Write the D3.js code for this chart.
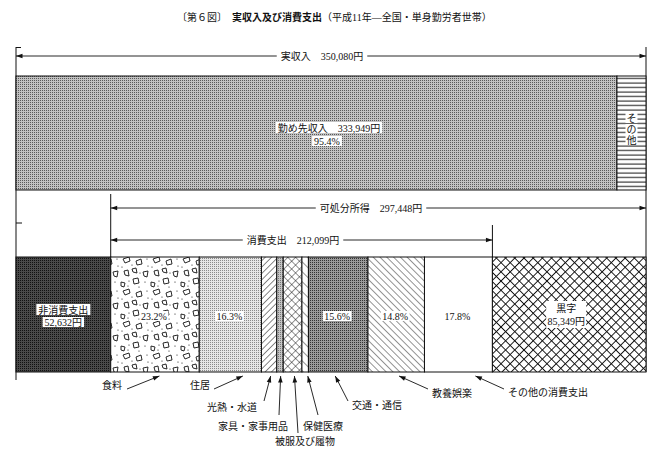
<!DOCTYPE html>
<html><head><meta charset="utf-8">
<script src="https://cdn.jsdelivr.net/npm/d3@7"></script>
<style>body{margin:0;background:#fff}</style>
</head><body><svg id="c" width="662" height="461"></svg>
<script>
// ---- data ----
const incomeCategories = ["勤め先収入", "その他"];
const incomeValues = [333949, 16131];
const incomeShareLabels = ["95.4%", ""];
const realIncome = 350080;
const disposableIncome = 297448;
const nonConsumption = 52632;
const consumption = 212099;
const surplus = 85349;
const consumptionCategories = ["食料","住居","光熱・水道","家具・家事用品","被服及び履物","保健医療","交通・通信","教養娯楽","その他の消費支出"];
const consumptionShares = [23.2, 16.3, 4.0, 1.7, 4.9, 1.7, 15.6, 14.8, 17.8];
const consumptionShareShown = [true, true, false, false, false, false, true, true, true];

// ---- setup ----
const FONT = "'Liberation Serif','Noto Sans CJK JP',serif";
const INK = "#111";
const svg = d3.select("#c").attr("font-family", FONT);
const defs = svg.append("defs");

function dots(id, bg, fg) {
  const p = defs.append("pattern").attr("id", id).attr("width", 2).attr("height", 2).attr("patternUnits", "userSpaceOnUse");
  p.append("rect").attr("width", 2).attr("height", 2).attr("fill", bg);
  p.append("rect").attr("width", 1).attr("height", 1).attr("fill", fg);
}
function hatch(id, size, angle, sw, cross) {
  const p = defs.append("pattern").attr("id", id).attr("width", size).attr("height", size)
    .attr("patternUnits", "userSpaceOnUse").attr("patternTransform", `rotate(${angle})`);
  p.append("rect").attr("width", size).attr("height", size).attr("fill", "#fff");
  p.append("line").attr("x1", 0).attr("x2", 0).attr("y1", 0).attr("y2", size).attr("stroke", INK).attr("stroke-width", sw);
  if (cross) p.append("line").attr("x1", 0).attr("x2", size).attr("y1", 0).attr("y2", 0).attr("stroke", INK).attr("stroke-width", sw);
}
dots("pWork", "#c2c2c2", "#5a5a5a");
dots("pNon", "#4a4a4a", "#111");
dots("pHouse", "#e6e6e6", "#8a8a8a");
dots("pFurn", "#c6c6c6", "#777");
dots("pTrans", "#9a9a9a", "#333");
hatch("pSlash", 4.5, 45, 1, false);
hatch("pBack", 4.8, -45, 0.9, false);
hatch("pBack2", 7, -45, 0.9, false);
hatch("pCross", 5.5, 45, 0.9, true);
hatch("pSurplus", 6.5, 45, 1.9, true);
(function(){
  const p = defs.append("pattern").attr("id", "pLines").attr("width", 6).attr("height", 4.5).attr("patternUnits", "userSpaceOnUse");
  p.append("rect").attr("width", 6).attr("height", 4.5).attr("fill", "#fff");
  p.append("line").attr("x1", 0).attr("x2", 6).attr("y1", 2).attr("y2", 2).attr("stroke", INK).attr("stroke-width", 1);
})();
(function(){
  const p = defs.append("pattern").attr("id", "pFood").attr("width", 30).attr("height", 32).attr("patternUnits", "userSpaceOnUse");
  p.append("rect").attr("width", 30).attr("height", 32).attr("fill", "#fff");
  const polys = ["3,3 9,1 10,5 5,7","16,5 21,3 22,8 17,9","23,16 28,15 27,21 24,20","4,15 8,14 9,20 5,19",
                 "13,23 18,22 19,27 14,28","12,13 16,12 17,17 13,16","1,26 5,27 4,31 1,30"];
  polys.forEach(pt => p.append("polygon").attr("points", pt).attr("fill", "#fff").attr("stroke", INK).attr("stroke-width", 0.9));
  [[12,9],[2,11],[25,26],[9,25],[27,3],[20,17],[8,30],[19,31],[28,10]].forEach(([cx,cy]) =>
    p.append("circle").attr("cx", cx).attr("cy", cy).attr("r", 0.6).attr("fill", INK));
})();

const incomeFills = ["url(#pWork)", "url(#pLines)"];
const consumptionFills = ["url(#pFood)","url(#pHouse)","url(#pSlash)","url(#pFurn)","url(#pCross)","url(#pBack2)","url(#pTrans)","url(#pBack)","#fff"];

const x = d3.scaleLinear().domain([0, realIncome]).range([16, 646]);
const xc = d3.scaleLinear().domain([0, 100]).range([x(nonConsumption), x(nonConsumption + consumption)]);

function boxedText(g, tx, ty, str, opts = {}) {
  const t = g.append("text").attr("x", tx).attr("y", ty).attr("font-size", opts.size || 10)
    .attr("text-anchor", opts.anchor || "middle").attr("dominant-baseline", "central")
    .attr("font-weight", opts.weight || "normal").attr("fill", INK).text(str);
  if (opts.box !== false) {
    const bb = t.node().getBBox();
    const px = opts.pad == null ? 1.5 : opts.pad;
    const vy = opts.vpad == null ? -0.5 : opts.vpad;
    g.insert("rect", () => t.node()).attr("x", bb.x - px).attr("y", bb.y - vy)
      .attr("width", bb.width + 2 * px).attr("height", bb.height + 2 * vy).attr("fill", "#fff");
  }
  return t;
}
function head(g, tipX, tipY, fromX, fromY) {
  const a = Math.atan2(tipY - fromY, tipX - fromX), L = 6.5, W = 2.3;
  const bx = tipX - L * Math.cos(a), by = tipY - L * Math.sin(a);
  const pts = [[tipX, tipY], [bx + W * Math.sin(a), by - W * Math.cos(a)], [bx - W * Math.sin(a), by + W * Math.cos(a)]];
  g.append("polygon").attr("points", pts.map(p => p.join(",")).join(" ")).attr("fill", INK);
}
function spanArrow(x1, x2, y, label, lx) {
  const g = svg.append("g");
  g.append("line").attr("x1", x1).attr("x2", x2).attr("y1", y).attr("y2", y).attr("stroke", INK).attr("stroke-width", 0.9);
  head(g, x1, y, x2, y); head(g, x2, y, x1, y);
  boxedText(g, lx, y, label, {pad: 4});
}

// ---- title ----
const title = svg.append("text").attr("x", 177).attr("y", 17).attr("font-size", 10).attr("fill", INK).attr("dominant-baseline", "central");
title.append("tspan").text("〔第６図〕　");
title.append("tspan").attr("font-weight", "bold").text("実収入及び消費支出");
title.append("tspan").text("（平成11年—全国・単身勤労者世帯）");

// ---- frame ----
const frame = svg.append("g").attr("stroke", INK).attr("stroke-width", 1).attr("fill", "none");
frame.append("line").attr("x1", x(0)).attr("x2", x(0)).attr("y1", 47).attr("y2", 380);
frame.append("line").attr("x1", x(realIncome)).attr("x2", x(realIncome)).attr("y1", 47).attr("y2", 372);
frame.append("line").attr("x1", x(0)).attr("x2", x(0) + 5).attr("y1", 47.5).attr("y2", 47.5);
frame.append("line").attr("x1", x(0)).attr("x2", x(0) + 6).attr("y1", 223).attr("y2", 223);

// ---- top bar: real income ----
let cum = 0;
const incomeSegs = incomeValues.map((v, i) => { const s = {i, x0: cum, x1: cum + v}; cum += v; return s; });
svg.append("g").selectAll("rect").data(incomeSegs).join("rect")
  .attr("x", d => x(d.x0)).attr("y", 76).attr("width", d => x(d.x1) - x(d.x0)).attr("height", 114)
  .attr("fill", d => incomeFills[d.i]).attr("stroke", INK).attr("stroke-width", 1);
const tl = svg.append("g");
boxedText(tl, (x(0) + x(realIncome)) / 2 - 2, 128, `${incomeCategories[0]}　${d3.format(",")(incomeValues[0])}円`, {pad: 2});
boxedText(tl, (x(0) + x(realIncome)) / 2 - 4, 141, incomeShareLabels[0], {pad: 2});
const oc = (x(incomeSegs[1].x0) + x(incomeSegs[1].x1)) / 2;
Array.from(incomeCategories[1]).forEach((ch, k) => boxedText(tl, oc, 118 + k * 11, ch, {pad: 1}));

// ---- spans ----
spanArrow(x(0), x(realIncome), 56, `実収入　${d3.format(",")(realIncome)}円`, 322);
const dx0 = x(realIncome - disposableIncome);
svg.append("line").attr("x1", dx0).attr("x2", dx0).attr("y1", 194).attr("y2", 257).attr("stroke", INK);
spanArrow(dx0, x(realIncome), 208, `可処分所得　${d3.format(",")(disposableIncome)}円`, 371);
const cx1 = x(nonConsumption + consumption);
svg.append("line").attr("x1", cx1).attr("x2", cx1).attr("y1", 225).attr("y2", 257).attr("stroke", INK);
spanArrow(x(nonConsumption), cx1, 240, `消費支出　${d3.format(",")(consumption)}円`, 293);

// ---- bottom bar ----
const BY = 257, BH = 115;
const bottom = svg.append("g");
bottom.append("rect").attr("x", x(0)).attr("y", BY).attr("width", x(nonConsumption) - x(0)).attr("height", BH)
  .attr("fill", "url(#pNon)").attr("stroke", INK);
let cc = 0;
const consSegs = consumptionShares.map((v, i) => { const s = {i, x0: cc, x1: cc + v}; cc += v; return s; });
bottom.selectAll("rect.c").data(consSegs).join("rect").attr("class", "c")
  .attr("x", d => xc(d.x0)).attr("y", BY).attr("width", d => xc(d.x1) - xc(d.x0)).attr("height", BH)
  .attr("fill", d => consumptionFills[d.i]).attr("stroke", INK);
bottom.append("rect").attr("x", x(nonConsumption + consumption)).attr("y", BY)
  .attr("width", x(realIncome) - x(nonConsumption + consumption)).attr("height", BH)
  .attr("fill", "url(#pSurplus)").attr("stroke", INK);

const bl = svg.append("g");
const midY = BY + 59;
boxedText(bl, (x(0) + x(nonConsumption)) / 2, midY - 6, "非消費支出", {pad: 2});
boxedText(bl, (x(0) + x(nonConsumption)) / 2, midY + 6, `${d3.format(",")(nonConsumption)}円`, {pad: 2});
consSegs.forEach(d => {
  if (consumptionShareShown[d.i]) boxedText(bl, (xc(d.x0) + xc(d.x1)) / 2 - 1, midY, `${d3.format(".1f")(consumptionShares[d.i])}%`, {pad: 1.5});
});
const sc = (x(nonConsumption + consumption) + x(realIncome)) / 2 - 3;
const sg = svg.append("g");
sg.append("rect").attr("x", sc - 20).attr("y", midY - 15).attr("width", 40).attr("height", 27).attr("fill", "#fff");
boxedText(sg, sc, midY - 8, "黒字", {box: false});
boxedText(sg, sc, midY + 5, `${d3.format(",")(surplus)}円`, {box: false});

// ---- category annotations ----
const annotLayout = [
  {tx: 122, ty: 385, anchor: "end",    tail: [127, 389], f: 0.55},
  {tx: 210, ty: 385, anchor: "end",    tail: [214, 389], f: 0.7},
  {tx: 257, ty: 407, anchor: "end",    tail: [264, 401], f: 0.6},
  {tx: 288, ty: 426, anchor: "end",    tail: [279, 415], f: 0.6},
  {tx: 305, ty: 441, anchor: "middle", tail: [298, 433], f: 0.6},
  {tx: 303, ty: 426, anchor: "start",  tail: [318, 415], f: 0.9},
  {tx: 352, ty: 405, anchor: "start",  tail: [348, 401], f: 0.45},
  {tx: 432, ty: 393, anchor: "start",  tail: [428, 389], f: 0.55},
  {tx: 508, ty: 392, anchor: "start",  tail: [504, 389], f: 0.75}
];
const an = svg.append("g");
consSegs.forEach(d => {
  const L = annotLayout[d.i];
  const tipX = xc(d.x0 + (d.x1 - d.x0) * L.f), tipY = 376;
  an.append("line").attr("x1", L.tail[0]).attr("y1", L.tail[1]).attr("x2", tipX).attr("y2", tipY)
    .attr("stroke", INK).attr("stroke-width", 0.9);
  head(an, tipX, tipY, L.tail[0], L.tail[1]);
  boxedText(an, L.tx, L.ty, consumptionCategories[d.i], {anchor: L.anchor, box: false});
});
</script></body></html>
